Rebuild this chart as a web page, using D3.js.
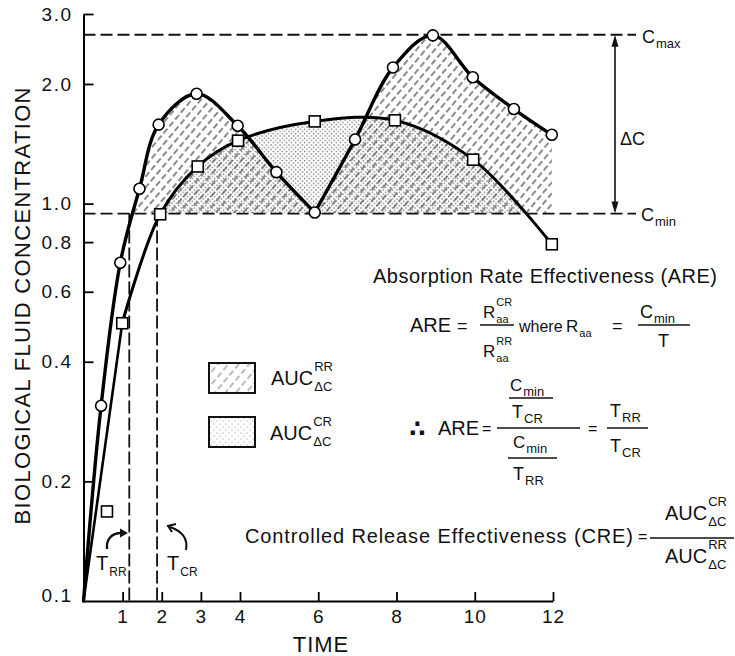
<!DOCTYPE html>
<html><head><meta charset="utf-8">
<script src="https://cdn.jsdelivr.net/npm/d3@7"></script>
<style>
body{margin:0;background:#fff}
svg{display:block}
text{font-family:"Liberation Sans",Arial,"DejaVu Sans",sans-serif;fill:#111}
</style>
</head><body>
<svg id="c" width="735" height="656"></svg>
<script>
// ---- data ----
const origin = {t: 0, c: 0.1};
const rrTime = [0.45, 0.94, 1.43, 1.92, 2.89, 3.94, 4.93, 5.91, 6.94, 7.91, 8.93, 9.95, 11.0, 11.97];
const rrConc = [0.31, 0.71, 1.09, 1.58, 1.89, 1.57, 1.20, 0.95, 1.45, 2.20, 2.65, 2.08, 1.73, 1.49];
const crTime = [0.99, 1.96, 2.92, 3.95, 5.91, 7.96, 9.96, 11.97];
const crConc = [0.50, 0.94, 1.24, 1.44, 1.61, 1.62, 1.29, 0.79];
const strayMarker = {t: 0.6, c: 0.168};
const cMin = 0.944, cMax = 2.66;
const tRR = 1.17, tCR = 1.88;
const xTicks = [1, 2, 3, 4, 6, 8, 10, 12];
const xTickLabels = ["1", "2", "3", "4", "6", "8", "10", "12"];
const yTicks = [3, 2, 1, 0.8, 0.6, 0.4, 0.2, 0.1];
const yTickLabels = ["3.0", "2.0", "1.0", "0.8", "0.6", "0.4", "0.2", "0.1"];

const svg = d3.select("#c");
const x = d3.scaleLinear().domain([0, 12]).range([83.5, 553]);
const y = d3.scaleLog().domain([0.1, 3]).range([601, 14]);

// ---- patterns ----
const defs = svg.append("defs");
const hatch = defs.append("pattern").attr("id", "hatch").attr("patternUnits", "userSpaceOnUse")
  .attr("width", 7).attr("height", 9).attr("patternTransform", "rotate(40)");
hatch.append("line").attr("x1", 1).attr("y1", 0).attr("x2", 1).attr("y2", 9)
  .attr("stroke", "#2a2a2a").attr("stroke-width", 1.1).attr("stroke-dasharray", "6,3");
const dots = defs.append("pattern").attr("id", "dots").attr("patternUnits", "userSpaceOnUse")
  .attr("width", 4.5).attr("height", 4.5);
dots.append("circle").attr("cx", 1).attr("cy", 1).attr("r", 0.7).attr("fill", "#555");
dots.append("circle").attr("cx", 3.25).attr("cy", 3.25).attr("r", 0.7).attr("fill", "#555");
const lh = defs.append("pattern").attr("id", "lhatch").attr("patternUnits", "userSpaceOnUse")
  .attr("width", 8).attr("height", 9).attr("patternTransform", "rotate(40)");
lh.append("line").attr("x1", 1).attr("y1", 0).attr("x2", 1).attr("y2", 9)
  .attr("stroke", "#777").attr("stroke-width", 1).attr("stroke-dasharray", "5,3");
const ld = defs.append("pattern").attr("id", "ldots").attr("patternUnits", "userSpaceOnUse")
  .attr("width", 6).attr("height", 6);
ld.append("circle").attr("cx", 1).attr("cy", 1).attr("r", 0.6).attr("fill", "#888");
ld.append("circle").attr("cx", 4).attr("cy", 4).attr("r", 0.6).attr("fill", "#888");

const yMin = y(cMin), yMax = y(cMax);
defs.append("clipPath").attr("id", "aboveMin").append("rect")
  .attr("x", x(0)).attr("y", 0).attr("width", x(12) - x(0)).attr("height", yMin);

// ---- series ----
const rr = [origin].concat(rrTime.map((t, i) => ({t, c: rrConc[i]})));
const cr = [origin].concat(crTime.map((t, i) => ({t, c: crConc[i]})));
const cusp = rr.findIndex(d => d.t === 5.91);
const rrA = rr.slice(0, cusp + 1), rrB = rr.slice(cusp);
const crA = cr.slice(0, 2), crB = cr.slice(1);
const curve = d3.curveCatmullRom.alpha(0.5);
const line = d3.line().x(d => x(d.t)).y(d => y(d.c)).curve(curve);
const lineStraight = d3.line().x(d => x(d.t)).y(d => y(d.c));
const area = d3.area().x(d => x(d.t)).y0(yMin).y1(d => y(d.c)).curve(curve);

const fills = svg.append("g").attr("clip-path", "url(#aboveMin)");
[rrA, rrB].forEach(s => fills.append("path").attr("d", area(s)).attr("fill", "url(#hatch)"));
fills.append("path").attr("d", area(crB)).attr("fill", "url(#dots)");

// ---- dashed reference lines ----
const dash = svg.append("g").attr("stroke", "#111").attr("stroke-width", 1.8).attr("fill", "none");
dash.append("line").attr("x1", x(0)).attr("x2", 636).attr("y1", yMax).attr("y2", yMax).attr("stroke-dasharray", "12,5");
dash.append("line").attr("x1", x(0)).attr("x2", 636).attr("y1", yMin).attr("y2", yMin).attr("stroke-dasharray", "12,5");
dash.append("line").attr("x1", x(tRR)).attr("x2", x(tRR)).attr("y1", yMin).attr("y2", y(0.1)).attr("stroke-dasharray", "13,4");
dash.append("line").attr("x1", x(tCR)).attr("x2", x(tCR)).attr("y1", yMin).attr("y2", y(0.1)).attr("stroke-dasharray", "13,4");

// ---- curves ----
const curves = svg.append("g").attr("fill", "none").attr("stroke", "#000").attr("stroke-width", 3)
  .attr("stroke-linejoin", "round").attr("stroke-linecap", "round");
curves.append("path").attr("d", lineStraight(crA)).attr("stroke-width", 2.6);
curves.append("path").attr("d", line(crB));
curves.append("path").attr("d", line(rrA)).attr("stroke-width", 3.4);
curves.append("path").attr("d", line(rrB)).attr("stroke-width", 3.4);

// ---- markers ----
svg.append("g").selectAll("circle").data(rr.slice(1)).join("circle")
  .attr("cx", d => x(d.t)).attr("cy", d => y(d.c)).attr("r", 5.5)
  .attr("fill", "#fff").attr("stroke", "#000").attr("stroke-width", 1.6);
svg.append("g").selectAll("rect").data(cr.slice(1).concat([strayMarker])).join("rect")
  .attr("x", d => x(d.t) - 5.5).attr("y", d => y(d.c) - 5.5).attr("width", 11).attr("height", 11)
  .attr("fill", "#fff").attr("stroke", "#000").attr("stroke-width", 1.6);

// ---- axes ----
const xAxis = svg.append("g").attr("transform", `translate(0,${y(0.1)})`)
  .call(d3.axisBottom(x).tickValues(xTicks).tickFormat((d, i) => xTickLabels[i])
    .tickSizeInner(-9).tickSizeOuter(0).tickPadding(9));
const yAxis = svg.append("g").attr("transform", `translate(${x(0)},0)`)
  .call(d3.axisLeft(y).tickValues(yTicks).tickFormat((d, i) => yTickLabels[i])
    .tickSizeInner(-10).tickSizeOuter(0).tickPadding(11));
[xAxis, yAxis].forEach(a => {
  a.select(".domain").attr("stroke", "#000").attr("stroke-width", 2);
  a.selectAll(".tick line").attr("stroke", "#000").attr("stroke-width", 1.8);
  a.selectAll(".tick text").attr("font-size", 19).attr("fill", "#111")
    .attr("font-family", '"Liberation Sans",Arial,sans-serif');
});
yAxis.selectAll(".tick text").attr("letter-spacing", 1.5);
xAxis.selectAll(".tick text").attr("letter-spacing", 1);
yAxis.selectAll(".tick").filter(d => d === 0.1).select("line").remove();
yAxis.selectAll(".tick").filter(d => d === 0.1).select("text").attr("dy", "0.05em");

// axis titles
svg.append("text").attr("transform", "translate(30,306) rotate(-90)").attr("text-anchor", "middle")
  .attr("font-size", 22).attr("textLength", 437).attr("lengthAdjust", "spacing")
  .text("BIOLOGICAL FLUID CONCENTRATION");
svg.append("text").attr("x", 321).attr("y", 652).attr("text-anchor", "middle")
  .attr("font-size", 22).attr("letter-spacing", 1).text("TIME");

// ---- helpers ----
function sym(x0, y0, base, sup, sub, fs, sfs) {
  sfs = sfs || fs * 0.65;
  const t = svg.append("text").attr("x", x0).attr("y", y0).attr("font-size", fs).text(base);
  const w = t.node().getComputedTextLength();
  if (sup) svg.append("text").attr("x", x0 + w + 1).attr("y", y0 - fs * 0.68).attr("font-size", sfs).text(sup);
  if (sub) svg.append("text").attr("x", x0 + w + 1).attr("y", y0 + fs * 0.28).attr("font-size", sfs).text(sub);
}
function txt(x0, y0, s, fs, len) {
  const t = svg.append("text").attr("x", x0).attr("y", y0).attr("font-size", fs).text(s);
  if (len) t.attr("textLength", len).attr("lengthAdjust", "spacing");
  return t;
}
function bar(x1, x2, yy) {
  svg.append("line").attr("x1", x1).attr("x2", x2).attr("y1", yy).attr("y2", yy)
    .attr("stroke", "#111").attr("stroke-width", 1.6);
}

// ---- Cmax / Cmin / delta C ----
sym(642, 43, "C", null, "max", 18, 13);
sym(641, 221, "C", null, "min", 18, 13);
txt(620, 145, "ΔC", 18);
svg.append("line").attr("x1", 615).attr("x2", 615).attr("y1", yMax + 8).attr("y2", yMin - 8)
  .attr("stroke", "#111").attr("stroke-width", 1.6);
svg.append("path").attr("d", `M615,${yMax}L611.5,${yMax + 12}L618.5,${yMax + 12}Z`).attr("fill", "#111");
svg.append("path").attr("d", `M615,${yMin}L611.5,${yMin - 12}L618.5,${yMin - 12}Z`).attr("fill", "#111");

// ---- legend ----
svg.append("rect").attr("x", 209).attr("y", 363).attr("width", 46).attr("height", 30)
  .attr("fill", "url(#lhatch)").attr("stroke", "#111").attr("stroke-width", 2);
svg.append("rect").attr("x", 209).attr("y", 417).attr("width", 46).attr("height", 30)
  .attr("fill", "url(#ldots)").attr("stroke", "#111").attr("stroke-width", 2);
sym(271, 385, "AUC", "RR", "ΔC", 20, 13);
sym(270, 440, "AUC", "CR", "ΔC", 20, 13);

// ---- T labels & arrows ----
sym(96, 570, "T", null, "RR", 20, 12);
sym(167, 570, "T", null, "CR", 20, 12);
svg.append("path").attr("d", "M107,549 C106,539 112,533 121,533").attr("fill", "none")
  .attr("stroke", "#111").attr("stroke-width", 2.4);
svg.append("path").attr("d", "M128,533 L120,528.5 L120,537.5 Z").attr("fill", "#111");
svg.append("path").attr("d", "M186,550 C188,539 182,531 170,527").attr("fill", "none")
  .attr("stroke", "#111").attr("stroke-width", 2);
svg.append("path").attr("d", "M176,524 L168,526 L172,532").attr("fill", "none")
  .attr("stroke", "#111").attr("stroke-width", 2);

// ---- ARE text ----
txt(373, 283, "Absorption Rate Effectiveness (ARE)", 20, 344);
txt(410, 332, "ARE", 20);
txt(457, 332, "=", 18);
sym(483, 318, "R", "CR", "aa", 17, 11);
bar(480, 514, 325);
sym(483, 357, "R", "RR", "aa", 17, 11);
txt(519, 332, "where", 16);
sym(566, 332, "R", null, "aa", 17, 11);
txt(612, 332, "=", 18);
sym(640, 318, "C", null, "min", 18, 13);
bar(638, 690, 325);
txt(658, 347, "T", 18);

// ---- therefore row ----
txt(409, 437, "∴", 24).attr("font-weight", "bold");
txt(438, 435, "ARE", 20);
txt(482, 434, "=", 16);
bar(497, 580, 428);
sym(510, 391, "C", null, "min", 17, 13);
bar(509, 553, 398);
sym(512, 418, "T", null, "CR", 18, 13);
sym(513, 448, "C", null, "min", 17, 13);
bar(508, 557, 458);
sym(513, 480, "T", null, "RR", 18, 13);
txt(588, 434, "=", 16);
sym(610, 417, "T", null, "RR", 18, 13);
bar(607, 648, 428);
sym(610, 452, "T", null, "CR", 18, 13);

// ---- CRE row ----
txt(245, 543, "Controlled Release  Effectiveness (CRE)", 20, 388);
txt(638, 542, "=", 16);
bar(650, 734, 538);
sym(665, 520, "AUC", "CR", "ΔC", 20, 13);
sym(665, 563, "AUC", "RR", "ΔC", 20, 13);
</script>
</body></html>
